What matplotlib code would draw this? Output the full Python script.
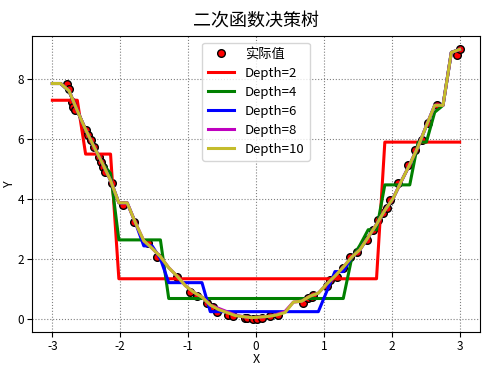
import matplotlib
matplotlib.use("Agg")
import matplotlib.pyplot as plt
import numpy as np

plt.rcParams['font.family'] = ['Noto Sans CJK SC', 'DejaVu Sans']
plt.rcParams['axes.unicode_minus'] = False

# observed samples (x, y)
x_obs = [-2.79, -2.75, -2.71, -2.69, -2.66, -2.50, -2.47, -2.43, -2.38, -2.32,
         -2.28, -2.25, -2.22, -2.12, -1.96, -1.79, -1.59, -1.46, -1.16, -0.97,
         -0.87, -0.72, -0.63, -0.57, -0.41, -0.34, -0.16, -0.13, -0.04, 0.01,
         0.09, 0.21, 0.32, 0.69, 0.76, 0.82, 0.84, 1.04, 1.09, 1.19,
         1.28, 1.38, 1.49, 1.63, 1.72, 1.80, 1.87, 1.93, 1.97, 2.09,
         2.24, 2.34, 2.44, 2.53, 2.66, 2.96, 3.00]
y_obs = [7.86, 7.66, 7.24, 7.08, 6.97, 6.30, 6.13, 5.97, 5.74, 5.41,
         5.24, 5.08, 4.91, 4.53, 3.80, 3.23, 2.53, 2.07, 1.40, 0.90,
         0.77, 0.53, 0.40, 0.23, 0.13, 0.07, 0.03, 0.03, 0.00, 0.00,
         0.03, 0.07, 0.13, 0.53, 0.70, 0.73, 0.80, 1.10, 1.30, 1.40,
         1.70, 2.07, 2.23, 2.63, 2.97, 3.30, 3.53, 3.70, 3.97, 4.53,
         5.13, 5.63, 5.97, 6.53, 7.13, 8.80, 9.00]

# prediction grid and tree outputs
x_test = np.linspace(-3, 3, 50)
depth2 = [7.3] * 4 + [5.5] * 4 + [1.33] * 32 + [5.9] * 10
depth4 = [7.86, 7.86, 7.6, 6.95, 6.3, 5.75, 5.2, 4.85, 2.63, 2.63,
          2.63, 2.63, 2.63, 2.63, 0.67, 0.67, 0.67, 0.67, 0.67, 0.67,
          0.67, 0.67, 0.67, 0.67, 0.67, 0.67, 0.67, 0.67, 0.67, 0.67,
          0.67, 0.67, 0.67, 0.67, 0.67, 0.67, 2.0, 2.45, 2.97, 2.97,
          4.47, 4.47, 4.47, 4.47, 5.9, 5.9, 6.9, 7.13, 8.9, 9.0]
depth6 = [7.86, 7.86, 7.62, 6.95, 6.32, 5.75, 5.2, 4.62, 3.87, 3.87,
          3.2, 2.43, 2.43, 2.0, 1.2, 1.2, 1.2, 1.2, 1.2, 0.23,
          0.23, 0.23, 0.23, 0.23, 0.23, 0.23, 0.23, 0.23, 0.23, 0.23,
          0.23, 0.23, 0.23, 0.9, 1.57, 1.57, 2.05, 2.3, 2.72, 3.15,
          3.62, 4.02, 4.6, 5.15, 5.75, 6.45, 7.13, 7.13, 8.9, 9.0]
depth8 = [7.86, 7.86, 7.62, 6.95, 6.32, 5.75, 5.2, 4.62, 3.87, 3.87,
          3.2, 2.6, 2.35, 2.07, 1.7, 1.42, 1.1, 0.88, 0.72, 0.45,
          0.34, 0.23, 0.12, 0.06, 0.03, 0.05, 0.07, 0.14, 0.24, 0.55,
          0.58, 0.75, 0.85, 1.15, 1.42, 1.72, 2.05, 2.3, 2.72, 3.15,
          3.62, 4.02, 4.6, 5.15, 5.75, 6.45, 7.13, 7.13, 8.9, 9.0]
depth10 = [7.86, 7.86, 7.62, 6.95, 6.32, 5.75, 5.2, 4.62, 3.87, 3.87,
           3.2, 2.6, 2.35, 2.07, 1.7, 1.42, 1.1, 0.88, 0.72, 0.45,
           0.3, 0.2, 0.1, 0.06, 0.03, 0.05, 0.07, 0.12, 0.2, 0.55,
           0.58, 0.75, 0.85, 1.15, 1.42, 1.72, 2.05, 2.3, 2.72, 3.15,
           3.62, 4.02, 4.6, 5.15, 5.75, 6.45, 7.13, 7.13, 8.9, 9.0]

depths = [2, 4, 6, 8, 10]
preds = [depth2, depth4, depth6, depth8, depth10]
colors = ['r', 'g', 'b', 'm', '#c4bc2c']

fig = plt.figure(figsize=(5, 3.67), dpi=100, facecolor='w')
ax = fig.add_axes([0.064, 0.0954, 0.896, 0.8066])

ax.plot(x_obs, y_obs, 'ro', mec='k', ms=5.5, label='实际值')
for d, p, c in zip(depths, preds, colors):
    ax.plot(x_test, p, '-', color=c, lw=2.2, label='Depth=%d' % d)

ax.set_xlim(-3.3, 3.3)
ax.set_ylim(-0.45, 9.45)
ax.set_xlabel('X', fontsize=9, labelpad=0)
ax.set_ylabel('Y', fontsize=9, labelpad=1)
ax.tick_params(labelsize=8.5, pad=2)
ax.grid(True, ls=':', color='gray')
ax.legend(loc='upper center', fontsize=9.5, handlelength=2.0,
          labelspacing=0.45, borderpad=0.4)
ax.set_title('二次函数决策树', fontsize=13, pad=7)

fig.savefig('out.png', dpi=100)
